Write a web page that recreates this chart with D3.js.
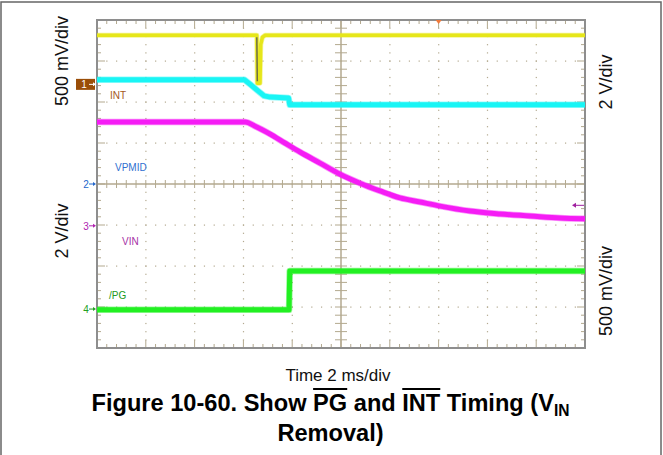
<!DOCTYPE html>
<html>
<head>
<meta charset="utf-8">
<script src="https://cdn.jsdelivr.net/npm/d3@7"></script>
<style>
  body { margin: 0; background: #fff; }
  #wrap { position: relative; width: 663px; height: 455px; overflow: hidden; }
  svg { position: absolute; left: 0; top: 0; }
  .caption { position: absolute; left: 0; width: 663px; text-align: center;
             font-family: "Liberation Sans", Arial, sans-serif; color: #000; }
  #title { top: 388px; left: -1px; font-size: 23.6px; font-weight: bold; line-height: 30px; }
  #title .ov { text-decoration: overline; }
  #title sub { font-size: 0.66em; line-height: 0; vertical-align: -0.3em; }
</style>
</head>
<body>
<div id="wrap">
  <div id="chart"></div>
  <div id="title" class="caption">Figure 10-60. Show <span class="ov">PG</span> and <span class="ov">INT</span> Timing (V<sub>IN</sub><br>Removal)</div>
</div>
<script>
// Traces: time in ms (2 ms/div), level in screen divisions from centre
var intTime   = [0, 6.05, 6.3, 6.6, 6.85, 7.1, 7.85, 7.9, 20];
var intLevel  = [2.54, 2.54, 2.42, 2.27, 2.15, 2.12, 2.1, 1.93, 1.93];

var vpmidTime  = [0, 6.55, 6.57, 6.68, 6.71, 6.78, 6.9, 20];
var vpmidLevel = [3.63, 3.63, 2.46, 2.46, 3.4, 3.58, 3.63, 3.63];

var vinTime  = [0, 6.07, 6.48, 7.09, 7.70, 8.32, 9.14, 9.96, 10.78, 11.60, 12.42, 13.24, 14.06, 15.29, 16.52, 17.75, 18.98, 20];
var vinLevel = [1.51, 1.51, 1.41, 1.22, 1.0, 0.78, 0.51, 0.24, 0.02, -0.17, -0.34, -0.44, -0.54, -0.66, -0.73, -0.78, -0.83, -0.85];

var pgTime  = [0, 7.87, 7.9, 20];
var pgLevel = [-3.07, -3.07, -2.12, -2.12];

// channel ground markers
var markerNames  = ["1", "2", "3", "4"];
var markerLevels = [2.43, 0, -1.02, -3.05];
var channelNames = ["INT", "VPMID", "VIN", "/PG"];

var vinRefLevel = -0.52;   // right-side arrow
var triggerTime = 14;

var width = 663, height = 455;
var plotL = 97, plotR = 585, plotT = 20, plotB = 348;

var xScale = d3.scaleLinear().domain([0, 20]).range([plotL, plotR]);
var yScale = d3.scaleLinear().domain([-4, 4]).range([plotB, plotT]);

var svg = d3.select('#chart').append('svg')
            .attr('width', width)
            .attr('height', height);

// outer frame
svg.append('rect')
   .attr('x', 1).attr('y', 2).attr('width', 660).attr('height', 470)
   .attr('fill', 'none').attr('stroke', '#666').attr('stroke-width', 1.5);

// Graticule
var grid = svg.append('g');
var tan = '#b3a98f';
var minorX = d3.range(0, 20.001, 0.4);
var minorY = d3.range(-4, 4.001, 0.2);

// dotted division lines
[2, 4, 6, 8, 12, 14, 16, 18].forEach(function(t) {
  minorY.forEach(function(v) {
    grid.append('rect').attr('x', xScale(t) - 0.5).attr('y', yScale(v) - 0.5)
        .attr('width', 1.2).attr('height', 1.2).attr('fill', tan);
  });
});
[-3, -2, -1, 1, 2, 3].forEach(function(v) {
  minorX.forEach(function(t) {
    grid.append('rect').attr('x', xScale(t) - 0.5).attr('y', yScale(v) - 0.5)
        .attr('width', 1.2).attr('height', 1.2).attr('fill', tan);
  });
});

// centre lines with ticks
grid.append('line').attr('x1', plotL).attr('x2', plotR)
    .attr('y1', yScale(0)).attr('y2', yScale(0))
    .attr('stroke', tan).attr('stroke-width', 1.5);
grid.append('line').attr('x1', xScale(10)).attr('x2', xScale(10))
    .attr('y1', plotT).attr('y2', plotB)
    .attr('stroke', tan).attr('stroke-width', 1.5);
grid.selectAll('.hct').data(minorX).enter().append('line')
    .attr('x1', function(d) { return xScale(d); })
    .attr('x2', function(d) { return xScale(d); })
    .attr('y1', yScale(0) - 4).attr('y2', yScale(0) + 4)
    .attr('stroke', tan).attr('stroke-width', 1);
grid.selectAll('.vct').data(minorY).enter().append('line')
    .attr('y1', function(d) { return yScale(d); })
    .attr('y2', function(d) { return yScale(d); })
    .attr('x1', xScale(10) - 6).attr('x2', xScale(10) + 6)
    .attr('stroke', tan).attr('stroke-width', 1);

// border ticks
function isMajor(d, step) { return Math.abs(d / step - Math.round(d / step)) < 1e-6; }
minorX.forEach(function(t) {
  var len = isMajor(t, 2) ? 8 : 4;
  grid.append('line').attr('x1', xScale(t)).attr('x2', xScale(t))
      .attr('y1', plotT).attr('y2', plotT + len).attr('stroke', tan);
  grid.append('line').attr('x1', xScale(t)).attr('x2', xScale(t))
      .attr('y1', plotB).attr('y2', plotB - len).attr('stroke', tan);
});
minorY.forEach(function(v) {
  var len = isMajor(v, 1) ? 8 : 4;
  grid.append('line').attr('y1', yScale(v)).attr('y2', yScale(v))
      .attr('x1', plotL).attr('x2', plotL + len).attr('stroke', tan);
  grid.append('line').attr('y1', yScale(v)).attr('y2', yScale(v))
      .attr('x1', plotR).attr('x2', plotR - len).attr('stroke', tan);
});

// plot border
grid.append('rect')
    .attr('x', plotL).attr('y', plotT)
    .attr('width', plotR - plotL).attr('height', plotB - plotT)
    .attr('fill', 'none').attr('stroke', '#8e8e8e').attr('stroke-width', 2);

// Traces
function trace(times, levels, color, w, curve) {
  var pts = times.map(function(t, i) { return [t, levels[i]]; });
  var line = d3.line()
               .x(function(d) { return xScale(d[0]); })
               .y(function(d) { return yScale(d[1]); })
               .curve(curve || d3.curveLinear);
  // soft halo for the noisy band, then the core
  svg.append('path').datum(pts)
     .attr('d', line)
     .attr('fill', 'none')
     .attr('stroke', color)
     .attr('stroke-opacity', 0.45)
     .attr('stroke-width', w + 1.5)
     .attr('stroke-linejoin', 'round');
  svg.append('path').datum(pts)
     .attr('d', line)
     .attr('fill', 'none')
     .attr('stroke', color)
     .attr('stroke-width', w)
     .attr('stroke-linejoin', 'round');
}
trace(vpmidTime, vpmidLevel, '#e6e61a', 3.5);
svg.append('line')
   .attr('x1', xScale(vpmidTime[1])).attr('x2', xScale(vpmidTime[2]))
   .attr('y1', yScale(vpmidLevel[1]) + 2).attr('y2', yScale(vpmidLevel[2]) - 2)
   .attr('stroke', '#6e6e46').attr('stroke-width', 1.5);
trace(intTime, intLevel, '#19f5f5', 5);
trace(vinTime, vinLevel, '#f51cf5', 5, d3.curveMonotoneX);
trace(pgTime, pgLevel, '#22f022', 5);

// Channel markers
var markerColors = ['#9a4e08', '#2266cc', '#b022b0', '#22a022'];
markerNames.forEach(function(name, i) {
  var y = yScale(markerLevels[i]);
  var g = svg.append('g');
  if (i === 0) {
    g.append('rect').attr('x', 76).attr('y', y - 5.5).attr('width', 19).attr('height', 11)
     .attr('fill', markerColors[i]);
  }
  var fg = i === 0 ? '#fff' : markerColors[i];
  g.append('text').attr('x', i === 0 ? 84 : 86).attr('y', y + 4)
   .attr('text-anchor', 'middle')
   .attr('font-family', 'Liberation Sans, Arial, sans-serif').attr('font-size', 10)
   .attr('fill', fg).text(name);
  g.append('line').attr('x1', 89).attr('x2', 93).attr('y1', y).attr('y2', y)
   .attr('stroke', fg).attr('stroke-width', 1);
  g.append('path').attr('d', 'M93,' + (y - 2) + 'L96,' + y + 'L93,' + (y + 2) + 'Z')
   .attr('fill', fg);
});

// channel names
var namePos = [[110, 99], [115, 171], [122, 245], [109, 299]];
var nameColors = ['#a4581c', '#2f6fd0', '#a632a6', '#229a22'];
channelNames.forEach(function(n, i) {
  svg.append('text').attr('x', namePos[i][0]).attr('y', namePos[i][1])
     .attr('font-family', 'Liberation Sans, Arial, sans-serif').attr('font-size', 10)
     .attr('fill', nameColors[i]).text(n);
});

// right-side reference arrow
var ry = yScale(vinRefLevel);
svg.append('line').attr('x1', 576).attr('x2', 584).attr('y1', ry).attr('y2', ry)
   .attr('stroke', '#a020a0').attr('stroke-width', 1);
svg.append('path').attr('d', 'M576,' + (ry - 2.5) + 'L572,' + ry + 'L576,' + (ry + 2.5) + 'Z')
   .attr('fill', '#a020a0');

// trigger marker
var tx = xScale(triggerTime);
svg.append('path').attr('d', 'M' + (tx - 3) + ',' + plotT + 'L' + (tx + 3) + ',' + plotT + 'L' + tx + ',' + (plotT + 4) + 'Z')
   .attr('fill', '#f07a3c');

// Volts/div labels
var vLabels = [
  { text: '500 mV/div', x: 68, y: 61 },
  { text: '2 V/div', x: 68, y: 231 },
  { text: '2 V/div', x: 612, y: 82 },
  { text: '500 mV/div', x: 612, y: 291 }
];
vLabels.forEach(function(d) {
  svg.append('text')
     .attr('transform', 'translate(' + d.x + ',' + d.y + ') rotate(-90)')
     .attr('text-anchor', 'middle')
     .attr('font-family', 'Liberation Sans, Arial, sans-serif')
     .attr('font-size', 18)
     .attr('fill', '#111')
     .text(d.text);
});

// time axis label
svg.append('text')
   .attr('x', 338).attr('y', 381)
   .attr('text-anchor', 'middle')
   .attr('font-family', 'Liberation Sans, Arial, sans-serif')
   .attr('font-size', 17)
   .attr('fill', '#111')
   .text('Time 2 ms/div');
</script>
</body>
</html>
